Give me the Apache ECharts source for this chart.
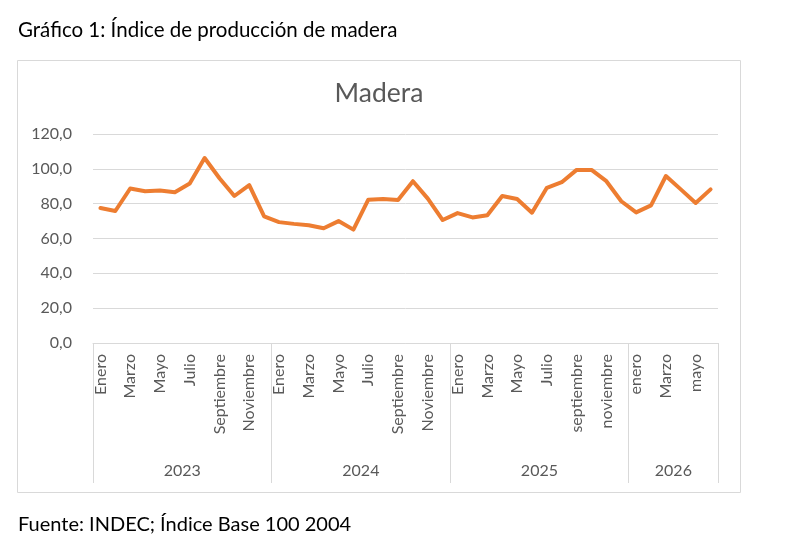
<!DOCTYPE html>
<html>
<head>
<meta charset="utf-8">
<script src="https://cdn.jsdelivr.net/npm/echarts@6/dist/echarts.min.js"></script>
<style>
  html, body { margin: 0; padding: 0; background: #fff; }
  #chart { width: 800px; height: 558px; }
</style>
</head>
<body>
<div id="chart"></div>
<script>
// months per year group and their labels
var years = ['2023', '2024', '2025', '2026']
var months2023 = ['Enero', 'Febrero', 'Marzo', 'Abril', 'Mayo', 'Junio', 'Julio', 'Agosto', 'Septiembre', 'Octubre', 'Noviembre', 'Diciembre']
var months2024 = ['Enero', 'Febrero', 'Marzo', 'Abril', 'Mayo', 'Junio', 'Julio', 'Agosto', 'Septiembre', 'Octubre', 'Noviembre', 'Diciembre']
var months2025 = ['Enero', 'Febrero', 'Marzo', 'Abril', 'Mayo', 'Junio', 'Julio', 'Agosto', 'septiembre', 'octubre', 'noviembre', 'diciembre']
var months2026 = ['enero', 'febrero', 'Marzo', 'abril', 'mayo', 'junio']

// indice de produccion de madera
var values2023 = [77.5, 75.8, 88.7, 87.1, 87.5, 86.6, 91.6, 106.2, 94.6, 84.4, 90.6, 72.7]
var values2024 = [69.4, 68.4, 67.6, 65.9, 70.0, 65.1, 82.3, 82.7, 82.1, 92.9, 82.9, 70.6]
var values2025 = [74.6, 72.1, 73.4, 84.4, 82.7, 74.8, 89.1, 92.3, 99.4, 99.4, 92.9, 81.4]
var values2026 = [75.0, 79.0, 95.9, 88.2, 80.4, 88.2]

var yTicks = [0, 20, 40, 60, 80, 100, 120]

var groups = [months2023, months2024, months2025, months2026]
var categories = [].concat(months2023, months2024, months2025, months2026)
var values = [].concat(values2023, values2024, values2025, values2026)

// limites y centros de cada año en unidades de mes
var bounds = [0]
var mids = []
groups.forEach(function (g) {
  var start = bounds[bounds.length - 1]
  mids.push(start + g.length / 2)
  bounds.push(start + g.length)
})

var font = 'Lato, "Open Sans", sans-serif'
var gray = '#595959'
var lineGray = '#d9d9d9'

var chart = echarts.init(document.getElementById('chart'))
chart.setOption({
  animation: false,
  textStyle: { fontFamily: font },
  graphic: [
    {
      type: 'rect',
      shape: { x: 17.5, y: 60.5, width: 723, height: 432 },
      style: { fill: 'none', stroke: lineGray, lineWidth: 1 },
      silent: true
    },
    {
      type: 'text', x: 18, y: 30,
      style: {
        text: 'Gráfico 1: Índice de producción de madera',
        font: '20.5px ' + font, fill: '#000', verticalAlign: 'middle'
      }
    },
    {
      type: 'text', x: 379, y: 93,
      style: {
        text: 'Madera',
        font: '26.5px ' + font, fill: gray, align: 'center', verticalAlign: 'middle'
      }
    },
    {
      type: 'text', x: 18, y: 525,
      style: {
        text: 'Fuente: INDEC; Índice Base 100 2004',
        font: '20px ' + font, fill: '#000', verticalAlign: 'middle'
      }
    }
  ],
  grid: { left: 93, right: 82, top: 134, bottom: 215 },
  xAxis: [
    {
      type: 'category',
      data: categories,
      boundaryGap: true,
      axisLine: { lineStyle: { color: lineGray, width: 1 } },
      axisTick: { show: false },
      axisLabel: {
        interval: 1,
        rotate: 90,
        margin: 11,
        fontSize: 16,
        color: gray
      }
    },
    {
      type: 'value',
      min: 0,
      max: bounds[bounds.length - 1],
      position: 'bottom',
      axisLine: { show: false },
      splitLine: { show: false },
      axisTick: {
        show: true,
        customValues: bounds,
        length: 140,
        lineStyle: { color: lineGray, width: 1 }
      },
      axisLabel: {
        customValues: mids,
        margin: 120,
        fontSize: 16,
        color: gray,
        formatter: function (v) {
          var i = mids.indexOf(v)
          return i >= 0 ? years[i] : ''
        }
      }
    }
  ],
  yAxis: {
    type: 'value',
    min: yTicks[0],
    max: yTicks[yTicks.length - 1],
    interval: 20,
    axisLine: { show: false },
    axisTick: { show: false },
    splitLine: { lineStyle: { color: lineGray, width: 1 } },
    axisLabel: {
      margin: 21,
      fontSize: 16,
      color: gray,
      formatter: function (v) { return v.toFixed(1).replace('.', ',') }
    }
  },
  series: [
    {
      name: 'Madera',
      type: 'line',
      xAxisIndex: 0,
      data: values,
      symbol: 'none',
      lineStyle: { color: '#ED7D31', width: 4, join: 'round', cap: 'round' }
    }
  ]
})
</script>
</body>
</html>
